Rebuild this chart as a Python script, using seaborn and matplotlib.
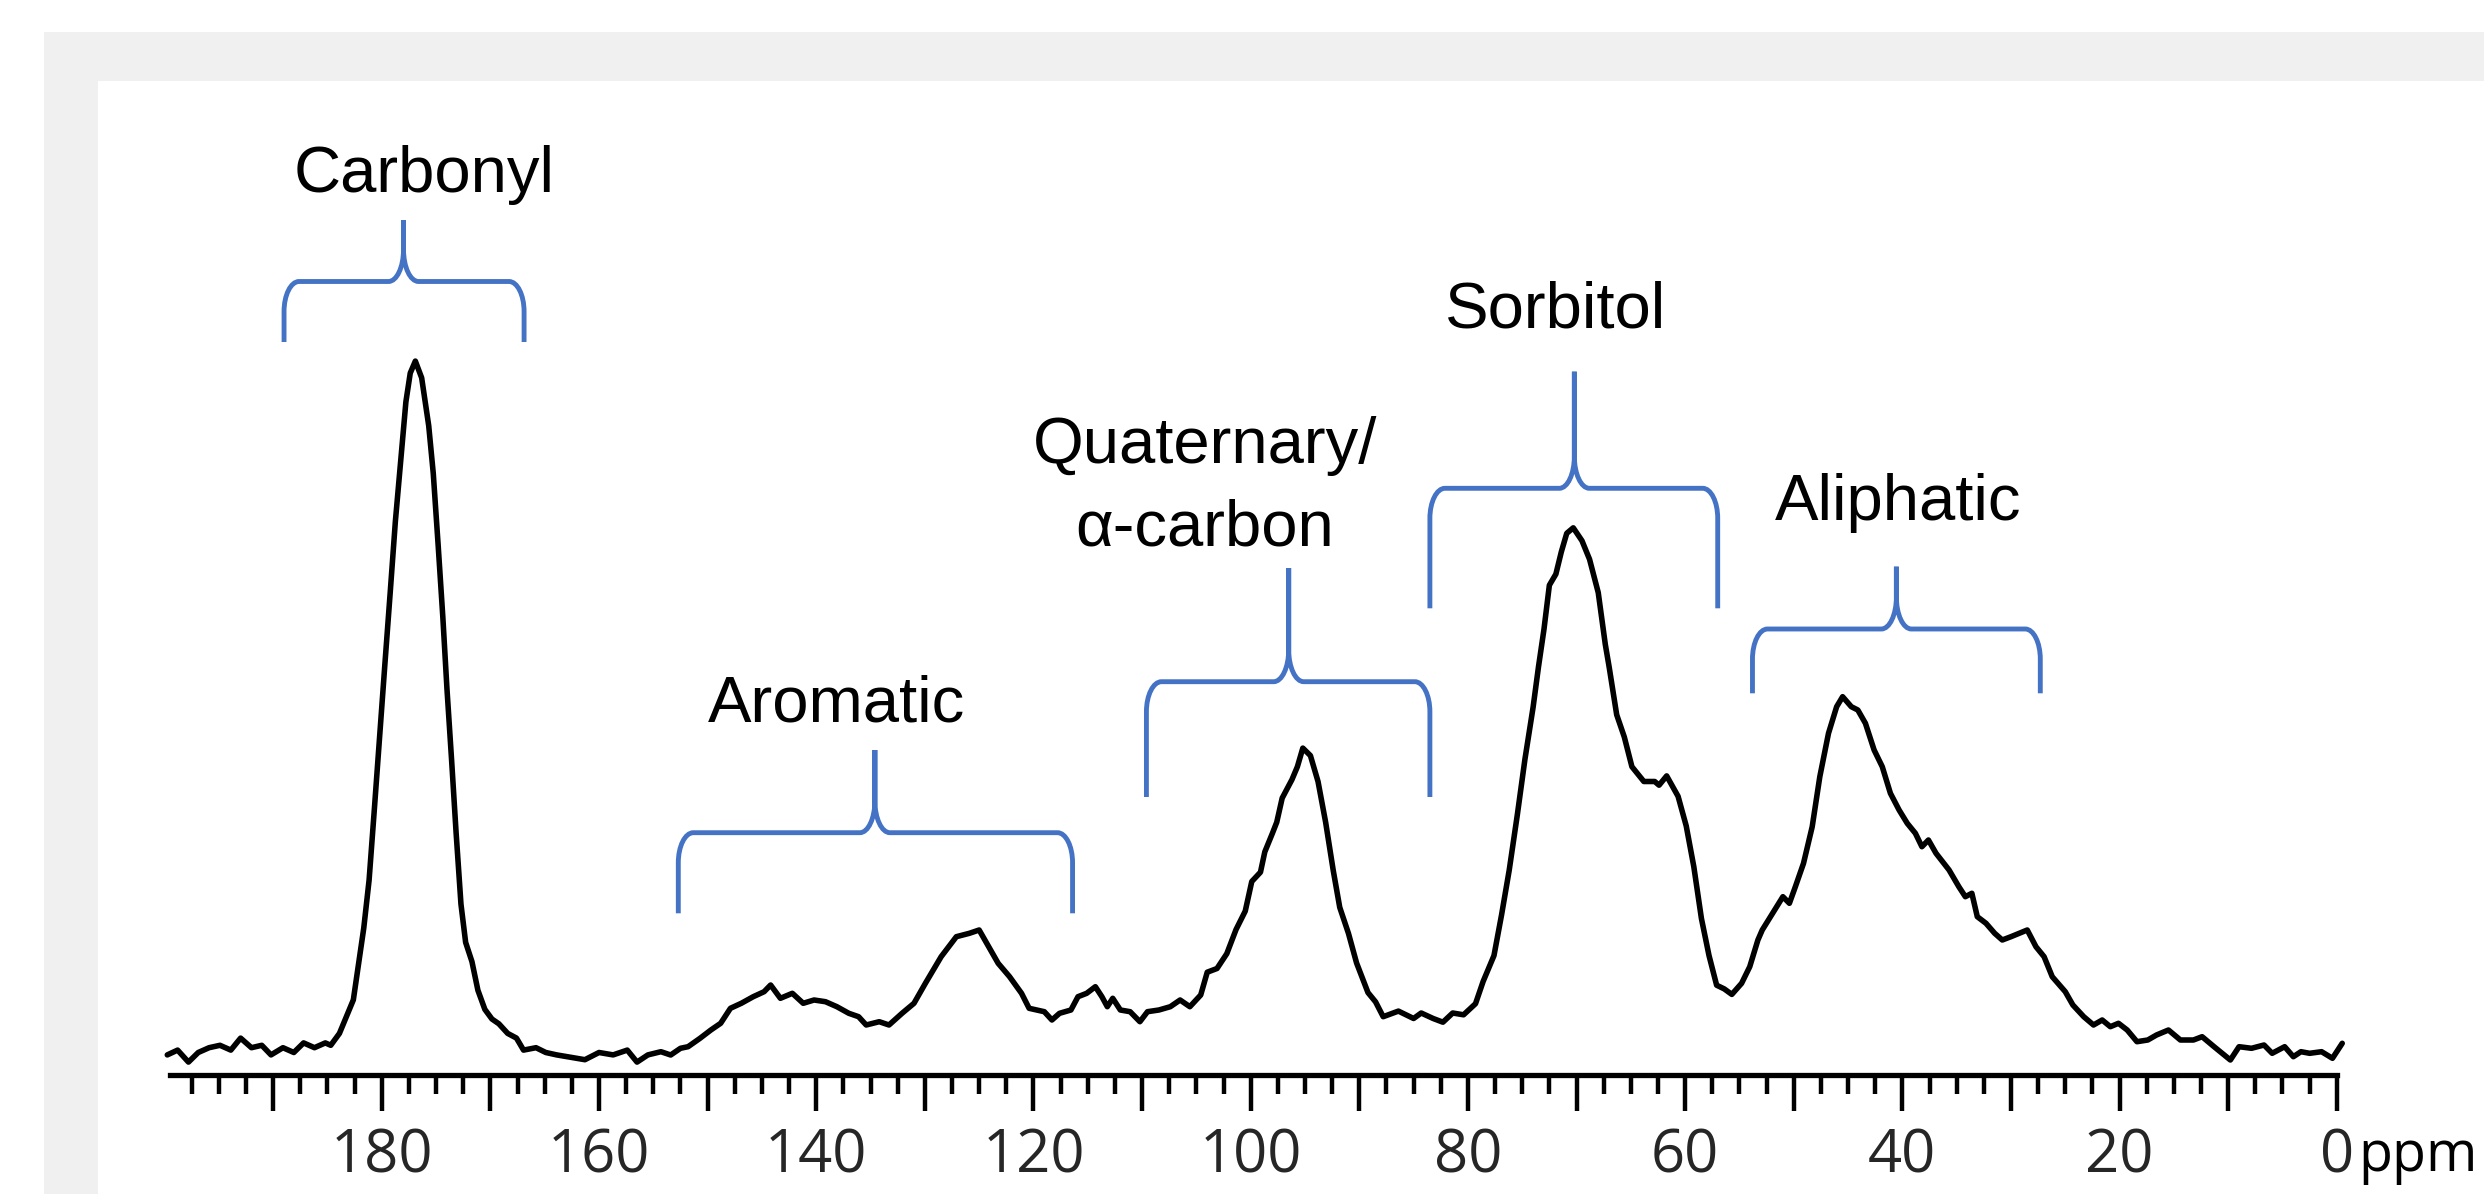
import numpy as np
import pandas as pd
import matplotlib
matplotlib.use("Agg")
import matplotlib.pyplot as plt
import seaborn as sns
from matplotlib.path import Path
from matplotlib.patches import PathPatch, Rectangle
from matplotlib.ticker import MultipleLocator, FuncFormatter

# ---------------- data ----------------
ppm = [
    199.75, 198.8, 197.8, 196.9, 195.9, 194.9, 193.9, 193.0, 192.0, 191.05,
    190.2, 189.1, 188.1, 187.2, 186.2, 185.2, 184.7, 183.9, 182.62, 181.66,
    181.17, 180.68, 180.20, 179.72, 179.23, 178.75, 178.17, 177.78, 177.38, 176.91,
    176.33, 175.68, 175.26, 174.81, 174.38, 174.00, 173.57, 173.16, 172.71, 172.28,
    171.70, 171.15, 170.51, 169.86, 169.22, 168.41, 167.60, 166.95, 165.8, 164.9,
    163.9, 162.6, 161.3, 160.0, 158.7, 157.4, 156.5, 155.5,
    154.3, 153.4, 152.5, 151.8, 150.7, 149.7, 148.8, 147.9, 146.9, 145.8,
    144.8, 144.2, 143.3, 142.2, 141.2, 140.2, 139.15, 138.1, 137.0, 136.1,
    135.4, 134.2, 133.3, 132.1, 131.0, 129.95, 128.5, 127.1, 125.9, 125.0,
    124.3, 123.25, 122.2, 121.1, 120.4, 119.7, 119.0, 118.3, 117.6, 116.55,
    115.9, 115.1, 114.3, 113.7, 113.2, 112.7, 112.0, 111.1, 110.2, 109.5,
    108.45, 107.4, 106.5, 105.6, 104.6,
    104.0, 103.1, 102.2, 101.35, 100.5, 99.9, 99.1, 98.7, 98.0, 97.6,
    97.1, 96.2, 95.7, 95.2, 94.5, 93.8, 93.1, 92.4, 91.8, 91.0,
    90.25, 89.2, 88.5, 87.8, 86.4, 85.0, 84.3, 83.2, 82.3, 81.4,
    80.4, 79.3, 78.6, 77.6, 76.9, 76.2, 75.45, 74.75, 74.0, 73.5,
    73.0, 72.5, 71.9, 71.4, 70.9, 70.3, 69.5, 68.8, 68.0, 67.35,
    67.0, 66.3, 65.6, 64.9, 63.8, 62.8, 62.4, 61.7, 60.65, 59.9,
    59.2, 58.5, 57.8, 57.1, 56.4, 55.7,
    54.8, 54.05, 53.3, 52.9, 51.95, 51.0, 50.4, 49.85, 49.1, 48.3,
    47.6, 46.8, 46.05, 45.5, 44.7, 44.1, 43.4, 42.6, 41.85, 41.1,
    40.3, 39.55, 38.8, 38.2, 37.6, 36.9, 35.7, 34.8, 34.2, 33.6,
    33.1, 32.3, 31.5, 30.8, 30.0, 29.25, 28.5, 27.7, 26.95, 26.2,
    25.0, 24.3, 23.3, 22.4, 21.6, 20.85, 20.1, 19.3, 18.4, 17.4,
    16.6, 15.5, 14.4, 13.2, 12.4, 11.3, 9.8, 9.0, 7.85, 6.7,
    5.95, 4.8, 4.0, 3.3, 2.5, 1.4, 0.4, -0.5,
]
intensity = [
    20.1, 24.9, 12.9, 22.5, 27.3, 29.7, 24.9, 36.9, 27.3, 29.7,
    20.1, 27.3, 22.5, 32.1, 27.3, 32.1, 29.7, 41.6, 75.1, 146.9,
    194.8, 266.5, 338.3, 410.1, 481.8, 553.6, 625.4, 673.2, 701.9, 713.9,
    697.2, 649.3, 601.5, 529.7, 457.9, 386.2, 314.4, 242.6, 170.8, 132.6,
    113.4, 84.7, 65.6, 56.0, 51.2, 41.6, 36.9, 24.9, 27.3, 22.5,
    20.1, 17.7, 15.3, 22.5, 20.1, 24.9, 12.9, 20.1,
    23.3, 20.0, 26.7, 28.3, 36.7, 45.0, 51.7, 66.7, 71.7, 78.3,
    83.3, 90.0, 76.7, 81.7, 71.7, 75.0, 73.3, 68.3, 61.7, 58.3,
    50.0, 53.3, 50.0, 61.7, 71.7, 91.7, 118.3, 138.3, 141.7, 145.0,
    131.7, 111.7, 98.3, 81.7, 66.7, 65.0, 63.3, 55.0, 61.7, 65.0,
    78.3, 81.7, 88.3, 78.3, 68.3, 76.7, 65.0, 63.3, 53.3, 63.3,
    65.0, 68.3, 75.0, 68.3, 80.0,
    102.8, 106.5, 121.3, 145.4, 163.9, 193.5, 202.8, 223.1, 241.7, 252.8,
    276.9, 295.4, 308.3, 326.9, 319.4, 293.5, 252.8, 204.6, 167.6, 141.7,
    112.0, 82.4, 73.1, 58.3, 63.9, 56.5, 62.0, 56.5, 52.8, 62.0,
    60.2, 71.3, 93.5, 119.4, 160.2, 204.6, 260.2, 315.7, 367.6, 408.3,
    445.4, 489.8, 500.9, 523.1, 541.7, 547.2, 534.3, 515.7, 482.4, 430.6,
    408.3, 360.2, 338.0, 308.3, 293.5, 293.5, 289.8, 299.1, 278.7, 249.1,
    208.3, 156.5, 119.4, 89.8, 86.1, 80.6,
    91.7, 108.3, 135.0, 145.0, 161.7, 178.3, 171.7, 188.3, 211.7, 248.3,
    298.3, 341.7, 368.3, 378.3, 368.3, 365.0, 351.7, 325.0, 308.3, 281.7,
    265.0, 251.7, 241.7, 228.3, 235.0, 221.7, 205.0, 188.3, 178.3, 181.7,
    158.3, 151.7, 141.7, 135.0, 138.3, 141.7, 145.0, 128.3, 118.3, 98.3,
    83.3, 70.0, 58.3, 50.0, 55.0, 48.3, 51.7, 45.0, 33.3, 35.0,
    40.0, 45.0, 35.0, 35.0, 38.3, 28.3, 15.0, 28.3, 26.7, 30.0,
    21.7, 28.3, 18.3, 23.3, 21.7, 23.3, 16.7, 31.7,
]

# region annotations (curly brackets + labels)
region_labels = ["Carbonyl", "Aromatic", "Quaternary/\nα-carbon", "Sorbitol", "Aliphatic"]
bracket_left = [189.0, 152.7, 109.6, 83.5, 53.8]
bracket_right = [166.9, 116.4, 83.5, 57.0, 27.3]
bracket_tip = [178.0, 134.6, 96.5, 70.2, 40.55]
bracket_end_h = [733.0, 161.7, 278.0, 466.7, 381.7]
bracket_bar_h = [793.5, 242.3, 393.3, 586.7, 446.0]
bracket_tip_h = [855.0, 325.0, 507.0, 703.3, 508.3]
label_x = [176.1, 138.1, 104.2, 71.9, 40.4]
label_baseline = [883.3, 353.3, 530.0, 747.7, 555.0]

tick_major_step = 10
tick_minor_step = 2.5
tick_label_step = 20

# ---------------- style ----------------
sns.set_style("white")
plt.rcParams["font.family"] = ["Open Sans", "DejaVu Sans"]
LABEL_FONT = ["Liberation Sans", "DejaVu Sans"]
BLUE = "#4472C4"

W, H = 2484, 1194
fig = plt.figure(figsize=(W / 100, H / 100), dpi=100)
fig.patch.set_facecolor("white")
fig.patches.append(Rectangle((44 / W, 0), 1 - 44 / W, (H - 32) / H,
                             transform=fig.transFigure, facecolor="#f0f0f0",
                             edgecolor="none", zorder=-2))
fig.patches.append(Rectangle((98 / W, 0), 1 - 98 / W, (H - 81) / H,
                             transform=fig.transFigure, facecolor="white",
                             edgecolor="none", zorder=-1))

ax = fig.add_axes([170 / W, 119 / H, 2166.8 / W, 994 / H])
ax.patch.set_alpha(0)

df = pd.DataFrame({"ppm": ppm, "intensity": intensity})
sns.lineplot(data=df, x="ppm", y="intensity", ax=ax, color="black",
             linewidth=4.0, estimator=None, sort=True, clip_on=False)

ax.set_xlim(199.5, 0)
ax.set_ylim(0, 994)
ax.set_xlabel("")
ax.set_ylabel("")

for s in ["top", "left", "right"]:
    ax.spines[s].set_visible(False)
ax.spines["bottom"].set_linewidth(3.8)
ax.spines["bottom"].set_color("black")

ax.xaxis.set_major_locator(MultipleLocator(tick_major_step))
ax.xaxis.set_minor_locator(MultipleLocator(tick_minor_step))
ax.xaxis.set_major_formatter(FuncFormatter(
    lambda v, p: f"{int(round(v))}" if int(round(v)) % tick_label_step == 0 else ""))
ax.tick_params(axis="x", which="major", direction="out", length=26, width=3.2,
               color="black", labelsize=43, pad=11, bottom=True)
ax.tick_params(axis="x", which="minor", direction="out", length=14, width=3.2,
               color="black", bottom=True)
ax.tick_params(axis="y", left=False, labelleft=False)

ax.text(-2.0, -96 / 994, "ppm", transform=ax.get_xaxis_transform(),
        ha="left", va="baseline", fontsize=40, color="black")

# ---------------- brackets ----------------
PX = 1 / 10.861  # ppm per pixel


def draw_bracket(ax, left, right, tip, y_end, y_bar, y_tip):
    rx, ry = 15 * PX, 30
    tx, ty = 15 * PX, 32
    c = 0.45
    verts, codes = [], []
    for side, sgn in ((left, 1), (right, -1)):
        verts += [
            (side, y_end), (side, y_bar - ry),
            (side, y_bar - ry * c), (side - sgn * rx * c, y_bar), (side - sgn * rx, y_bar),
            (tip + sgn * tx, y_bar),
            (tip + sgn * tx * c, y_bar), (tip, y_bar + ty * c), (tip, y_bar + ty),
            (tip, y_tip),
        ]
        codes += [Path.MOVETO, Path.LINETO,
                  Path.CURVE4, Path.CURVE4, Path.CURVE4,
                  Path.LINETO,
                  Path.CURVE4, Path.CURVE4, Path.CURVE4,
                  Path.LINETO]
    patch = PathPatch(Path(verts, codes), fill=False, edgecolor=BLUE,
                      linewidth=3.5, capstyle="butt", joinstyle="round",
                      clip_on=False)
    ax.add_patch(patch)


for i, lab in enumerate(region_labels):
    draw_bracket(ax, bracket_left[i], bracket_right[i], bracket_tip[i],
                 bracket_end_h[i], bracket_bar_h[i], bracket_tip_h[i])
    lines = lab.split("\n")
    line_gap = 81.7
    for j, line in enumerate(reversed(lines)):
        ax.text(label_x[i], label_baseline[i] + j * line_gap, line,
                ha="center", va="baseline", fontsize=47, color="black",
                family=LABEL_FONT)

fig.savefig("out.png", dpi=100, facecolor=fig.get_facecolor())
